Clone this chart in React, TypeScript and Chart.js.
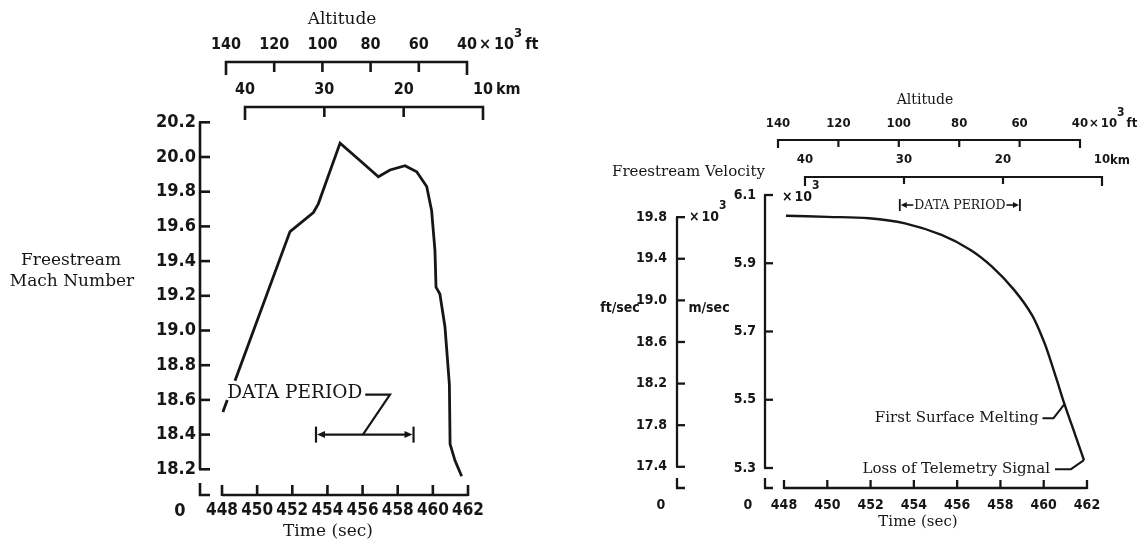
import React, { useEffect, useRef } from 'react';
import { Chart, registerables } from 'chart.js';

Chart.register(...registerables);

// ---------- data ----------
const timeTicks = [448, 450, 452, 454, 456, 458, 460, 462];
const altFtTicks = [140, 120, 100, 80, 60, 40];
const altKmTicks = [40, 30, 20, 10];
const machTicks = [20.2, 20.0, 19.8, 19.6, 19.4, 19.2, 19.0, 18.8, 18.6, 18.4, 18.2];
const machTime = [448.05, 448.3, 448.5, 448.74, 451.87, 453.2, 453.48, 454.72, 455.85, 456.9, 457.56, 458.42, 459.08, 459.65, 459.93, 460.12, 460.18, 460.4, 460.69, 460.94, 460.98, 461.26, 461.64];
const machValue = [18.53, 18.6, null, 18.71, 19.57, 19.68, 19.73, 20.08, 19.98, 19.886, 19.925, 19.95, 19.915, 19.83, 19.69, 19.46, 19.25, 19.21, 19.02, 18.69, 18.345, 18.25, 18.16];
const dataPeriod = [453.35, 458.9];
const velFtTicks = [19.8, 19.4, 19.0, 18.6, 18.2, 17.8, 17.4];
const velMsTicks = [6.1, 5.9, 5.7, 5.5, 5.3];
const velTime = [448.09, 450.0, 451.93, 453.59, 455.28, 456.62, 457.61, 458.63, 459.46, 460.0, 460.29, 460.62, 460.96, 461.45, 461.86];
const velValue = [6.039, 6.036, 6.032, 6.017, 5.983, 5.939, 5.89, 5.822, 5.748, 5.672, 5.62, 5.555, 5.487, 5.398, 5.323];
const FT_PER_M = 3.28084;

// ---------- styles ----------
const W = 1147;
const H = 543;
const INK = '#161616';
const SERIF = "'DejaVu Serif', 'Liberation Serif', serif";
const COND = "'DejaVu Sans Condensed', 'Liberation Sans Narrow', 'DejaVu Sans', sans-serif";

function fit(v1: number, p1: number, v2: number, p2: number, size: number, vertical: boolean) {
  const k = (p2 - p1) / (v2 - v1);
  const a = v1 - p1 / k;
  const b = v1 + (size - p1) / k;
  return {
    type: 'linear' as const,
    display: false,
    bounds: 'data' as const,
    min: Math.min(a, b),
    max: Math.max(a, b),
    reverse: vertical ? k > 0 : k < 0,
  };
}

function poly(ctx: CanvasRenderingContext2D, pts: number[][], w = 2.5) {
  ctx.beginPath();
  ctx.moveTo(pts[0][0], pts[0][1]);
  for (let i = 1; i < pts.length; i++) ctx.lineTo(pts[i][0], pts[i][1]);
  ctx.lineWidth = w;
  ctx.strokeStyle = INK;
  ctx.lineJoin = 'miter';
  ctx.lineCap = 'butt';
  ctx.stroke();
}

function txt(ctx: CanvasRenderingContext2D, s: string, x: number, y: number, font: string, align: CanvasTextAlign = 'center', base: CanvasTextBaseline = 'middle') {
  ctx.font = font;
  ctx.fillStyle = INK;
  ctx.textAlign = align;
  ctx.textBaseline = base;
  ctx.fillText(s, x, y);
  return ctx.measureText(s).width;
}

function arrow(ctx: CanvasRenderingContext2D, x: number, y: number, dir: number, len = 7, half = 3.5) {
  ctx.beginPath();
  ctx.moveTo(x, y);
  ctx.lineTo(x - dir * len, y - half);
  ctx.lineTo(x - dir * len, y + half);
  ctx.closePath();
  ctx.fillStyle = INK;
  ctx.fill();
}

// top bracket axis (ticks pointing down)
function topAxis(ctx: CanvasRenderingContext2D, scale: any, ticks: number[], y: number, endLen: number, tickLen: number, labelY: number, font: string, w: number) {
  const x0 = scale.getPixelForValue(ticks[0]);
  const x1 = scale.getPixelForValue(ticks[ticks.length - 1]);
  poly(ctx, [[x0, y + endLen], [x0, y], [x1, y], [x1, y + endLen]], w);
  ticks.forEach((v, i) => {
    const x = scale.getPixelForValue(v);
    if (i > 0 && i < ticks.length - 1) poly(ctx, [[x, y], [x, y + tickLen]], w);
    txt(ctx, String(v), x, labelY, font);
  });
}

// "× 10³ ft" style unit suffix
function unitSuffix(ctx: CanvasRenderingContext2D, x: number, y: number, font: string, supFont: string, unit: string, gap: number) {
  let ux = x;
  ux += txt(ctx, '\u00d7', ux, y, font, 'left') + gap;
  ux += txt(ctx, '10', ux, y, font, 'left');
  ux += txt(ctx, '3', ux, y - 11, supFont, 'left') + gap;
  txt(ctx, unit, ux, y, font, 'left');
}

// ---------- left panel decorations ----------
const leftDecor = {
  id: 'leftDecor',
  afterDraw(chart: any) {
    const ctx: CanvasRenderingContext2D = chart.ctx;
    const X = chart.scales.x;
    const Y = chart.scales.y;
    const F = chart.scales.altFt;
    const K = chart.scales.altKm;
    ctx.save();
    const lw = 2.6;
    const tickFont = `bold 18px ${COND}`;

    // y axis
    const ax = 200;
    const yTop = Y.getPixelForValue(machTicks[0]);
    const yBot = Y.getPixelForValue(machTicks[machTicks.length - 1]);
    poly(ctx, [[ax, yTop], [ax, yBot]], lw);
    machTicks.forEach((v) => {
      const y = Y.getPixelForValue(v);
      poly(ctx, [[ax - 1, y], [ax + 10, y]], lw);
      txt(ctx, v.toFixed(1), ax - 4, y, tickFont, 'right');
    });
    // axis break to zero
    poly(ctx, [[ax, 483], [ax, 495], [ax + 10, 495]], lw);
    txt(ctx, '0', 180, 511, tickFont);

    // x axis
    const ay = 495;
    const xa = X.getPixelForValue(timeTicks[0]);
    const xb = X.getPixelForValue(timeTicks[timeTicks.length - 1]);
    poly(ctx, [[xa, ay], [xb, ay]], lw);
    timeTicks.forEach((v) => {
      const x = X.getPixelForValue(v);
      poly(ctx, [[x, ay + 1], [x, ay - 10]], lw);
      txt(ctx, String(v), x, 511, `bold 17px ${COND}`);
    });
    txt(ctx, 'Time (sec)', 328, 532, `17px ${SERIF}`);

    // altitude axes
    const altFont = `bold 16px ${COND}`;
    topAxis(ctx, F, altFtTicks, 62, 13, 10, 45, altFont, lw);
    topAxis(ctx, K, altKmTicks, 107, 13, 10, 90, altFont, lw);
    unitSuffix(ctx, F.getPixelForValue(altFtTicks[altFtTicks.length - 1]) + 12, 45, altFont, `bold 13px ${COND}`, 'ft', 3);
    txt(ctx, 'km', K.getPixelForValue(altKmTicks[altKmTicks.length - 1]) + 13, 90, altFont, 'left');
    txt(ctx, 'Altitude', 342, 20, `17px ${SERIF}`);

    // y title
    txt(ctx, 'Freestream', 71, 261, `17px ${SERIF}`);
    txt(ctx, 'Mach Number', 72, 282, `17px ${SERIF}`);

    // data period annotation
    const by = Y.getPixelForValue(18.4);
    const p0 = X.getPixelForValue(dataPeriod[0]);
    const p1 = X.getPixelForValue(dataPeriod[1]);
    poly(ctx, [[p0 + 6, by], [p1 - 6, by]], 2.2);
    poly(ctx, [[p0, by - 8], [p0, by + 8]], 2.2);
    poly(ctx, [[p1, by - 8], [p1, by + 8]], 2.2);
    arrow(ctx, p0 + 1, by, -1, 8, 3.5);
    arrow(ctx, p1 - 1, by, 1, 8, 3.5);
    const tx = X.getPixelForValue(448.3);
    const ty = Y.getPixelForValue(18.61);
    const tw = txt(ctx, 'DATA PERIOD', tx, ty, `18.5px ${SERIF}`, 'left', 'alphabetic');
    const ly = Y.getPixelForValue(18.63);
    poly(ctx, [[tx + tw + 3, ly], [X.getPixelForValue(457.56), ly], [X.getPixelForValue(456.02), by]], 2.2);
    ctx.restore();
  },
};

// ---------- right panel decorations ----------
const rightDecor = {
  id: 'rightDecor',
  afterDraw(chart: any) {
    const ctx: CanvasRenderingContext2D = chart.ctx;
    const X = chart.scales.x;
    const Y = chart.scales.y;
    const YF = chart.scales.yFt;
    const F = chart.scales.altFt;
    const K = chart.scales.altKm;
    ctx.save();
    const lw = 2.3;
    const tickFont = `bold 14px ${COND}`;
    const supFont = `bold 12px ${COND}`;

    // m/sec axis
    const mx = 765;
    poly(ctx, [[mx, Y.getPixelForValue(velMsTicks[0])], [mx, Y.getPixelForValue(velMsTicks[velMsTicks.length - 1])]], lw);
    velMsTicks.forEach((v) => {
      const y = Y.getPixelForValue(v);
      poly(ctx, [[mx - 1, y], [mx + 8, y]], lw);
      txt(ctx, v.toFixed(1), mx - 9, y, tickFont, 'right');
    });
    {
      let sx = 782;
      const sy = Y.getPixelForValue(velMsTicks[0]) + 2;
      sx += txt(ctx, '\u00d7', sx, sy, tickFont, 'left') + 2;
      sx += txt(ctx, '10', sx, sy, tickFont, 'left');
      txt(ctx, '3', sx, sy - 11, supFont, 'left');
    }

    // ft/sec axis
    const fx = 677;
    poly(ctx, [[fx, YF.getPixelForValue(velFtTicks[0])], [fx, YF.getPixelForValue(velFtTicks[velFtTicks.length - 1])]], lw);
    velFtTicks.forEach((v) => {
      const y = YF.getPixelForValue(v);
      poly(ctx, [[fx - 1, y], [fx + 8, y]], lw);
      txt(ctx, v.toFixed(1), fx - 10, y, tickFont, 'right');
    });
    {
      let sx = 689;
      const sy = YF.getPixelForValue(velFtTicks[0]);
      sx += txt(ctx, '\u00d7', sx, sy, tickFont, 'left') + 2;
      sx += txt(ctx, '10', sx, sy, tickFont, 'left');
      txt(ctx, '3', sx, sy - 11, supFont, 'left');
    }

    // breaks to zero
    poly(ctx, [[fx, 478], [fx, 488], [fx + 8, 488]], lw);
    poly(ctx, [[mx, 478], [mx, 488], [mx + 8, 488]], lw);
    txt(ctx, '0', 661, 505, tickFont);
    txt(ctx, '0', 748, 505, tickFont);

    txt(ctx, 'ft/sec', 620, 308, tickFont);
    txt(ctx, 'm/sec', 709, 308, tickFont);
    txt(ctx, 'Freestream Velocity', 612, 172, `15px ${SERIF}`, 'left');

    // x axis
    const ay = 488;
    const xa = X.getPixelForValue(timeTicks[0]);
    const xb = X.getPixelForValue(timeTicks[timeTicks.length - 1]);
    poly(ctx, [[xa, ay], [xb, ay]], lw);
    timeTicks.forEach((v) => {
      const x = X.getPixelForValue(v);
      poly(ctx, [[x, ay + 1], [x, ay - 8]], lw);
      txt(ctx, String(v), x, 505, tickFont);
    });
    txt(ctx, 'Time (sec)', 918, 522, `15px ${SERIF}`);

    // altitude axes
    const altFont = `bold 13px ${COND}`;
    topAxis(ctx, F, altFtTicks, 140, 8, 7, 124, altFont, 2.2);
    topAxis(ctx, K, altKmTicks, 177, 9, 7, 160, altFont, 2.2);
    unitSuffix(ctx, F.getPixelForValue(altFtTicks[altFtTicks.length - 1]) + 9, 124, altFont, supFont, 'ft', 2);
    txt(ctx, 'km', K.getPixelForValue(altKmTicks[altKmTicks.length - 1]) + 8, 161, altFont, 'left');
    txt(ctx, 'Altitude', 925, 100, `14px ${SERIF}`);

    // data period bracket
    const dy = 205;
    const p0 = X.getPixelForValue(dataPeriod[0]);
    const p1 = X.getPixelForValue(dataPeriod[1]);
    const mid = (p0 + p1) / 2;
    ctx.font = `12.5px ${SERIF}`;
    const dw = ctx.measureText('DATA PERIOD').width;
    poly(ctx, [[p0, dy - 6], [p0, dy + 6]], 1.8);
    poly(ctx, [[p1, dy - 6], [p1, dy + 6]], 1.8);
    poly(ctx, [[p0 + 4, dy], [mid - dw / 2 - 1, dy]], 1.6);
    poly(ctx, [[mid + dw / 2 + 1, dy], [p1 - 4, dy]], 1.6);
    arrow(ctx, p0 + 1, dy, -1, 6, 3);
    arrow(ctx, p1 - 1, dy, 1, 6, 3);
    txt(ctx, 'DATA PERIOD', mid, dy + 1, `12.5px ${SERIF}`);

    // event annotations
    const e1x = X.getPixelForValue(460.96);
    const e1y = Y.getPixelForValue(5.487);
    poly(ctx, [[e1x - 22, e1y + 14], [e1x - 11, e1y + 14], [e1x, e1y]], 2);
    txt(ctx, 'First Surface Melting', e1x - 26, e1y + 14, `15px ${SERIF}`, 'right');
    const e2x = X.getPixelForValue(461.86);
    const e2y = Y.getPixelForValue(5.323);
    poly(ctx, [[e2x - 29, e2y + 9], [e2x - 13, e2y + 9], [e2x, e2y]], 2);
    txt(ctx, 'Loss of Telemetry Signal', e2x - 34, e2y + 9, `15px ${SERIF}`, 'right');
    ctx.restore();
  },
};

export default function App() {
  const leftRef = useRef<HTMLCanvasElement>(null);
  const rightRef = useRef<HTMLCanvasElement>(null);

  useEffect(() => {
    const left = new Chart(leftRef.current!, {
      type: 'line',
      data: {
        datasets: [
          {
            data: machTime.map((t, i) => ({ x: t, y: machValue[i] })),
            borderColor: INK,
            borderWidth: 2.8,
            pointRadius: 0,
            tension: 0,
            spanGaps: false,
            fill: false,
          },
        ],
      },
      options: {
        responsive: false,
        animation: false,
        devicePixelRatio: 1,
        layout: { padding: 0 },
        plugins: { legend: { display: false }, tooltip: { enabled: false } },
        events: [],
        scales: {
          x: fit(448, 222, 462, 468, W, false),
          y: fit(20.2, 122.3, 18.2, 469.3, H, true),
          altFt: { ...fit(140, 226, 40, 467, W, false), axis: 'x' },
          altKm: { ...fit(40, 245, 10, 483, W, false), axis: 'x' },
        },
      } as any,
      plugins: [leftDecor],
    });

    const yMs = fit(5.3, 468, 6.1, 195, H, true);
    const right = new Chart(rightRef.current!, {
      type: 'line',
      data: {
        datasets: [
          {
            data: velTime.map((t, i) => ({ x: t, y: velValue[i] })),
            borderColor: INK,
            borderWidth: 2.4,
            pointRadius: 0,
            tension: 0.35,
            fill: false,
          },
        ],
      },
      options: {
        responsive: false,
        animation: false,
        devicePixelRatio: 1,
        layout: { padding: 0 },
        plugins: { legend: { display: false }, tooltip: { enabled: false } },
        events: [],
        scales: {
          x: fit(448, 784, 462, 1087, W, false),
          y: yMs,
          yFt: { ...yMs, axis: 'y', min: yMs.min * FT_PER_M, max: yMs.max * FT_PER_M },
          altFt: { ...fit(140, 778, 40, 1080, W, false), axis: 'x' },
          altKm: { ...fit(40, 805, 10, 1102, W, false), axis: 'x' },
        },
      } as any,
      plugins: [rightDecor],
    });

    return () => {
      left.destroy();
      right.destroy();
    };
  }, []);

  const cv: React.CSSProperties = { position: 'absolute', left: 0, top: 0, width: W, height: H };
  return (
    <div style={{ position: 'absolute', left: 0, top: 0, width: W, height: H, background: '#fff' }}>
      <canvas ref={leftRef} width={W} height={H} style={cv} />
      <canvas ref={rightRef} width={W} height={H} style={cv} />
    </div>
  );
}
